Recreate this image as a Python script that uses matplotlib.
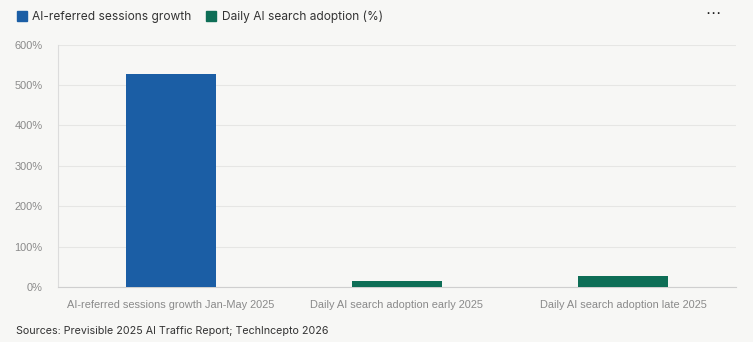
import matplotlib
matplotlib.use("Agg")
import matplotlib.pyplot as plt
from matplotlib.lines import Line2D

# data
categories = ['AI-referred sessions growth Jan-May 2025',
              'Daily AI search adoption early 2025',
              'Daily AI search adoption late 2025']
values = [527, 14, 28]
series = ['AI-referred sessions growth', 'Daily AI search adoption (%)', 'Daily AI search adoption (%)']
yticks = [0, 100, 200, 300, 400, 500, 600]

blue = '#1b5ea5'
green = '#0e6e56'
bg = '#f7f7f5'
colors = [blue if s == 'AI-referred sessions growth' else green for s in series]

fig = plt.figure(figsize=(7.53, 3.42), dpi=100, facecolor=bg)
ax = fig.add_axes([58 / 753, 1 - 287 / 342, 678 / 753, (287 - 44.7) / 342])
ax.set_facecolor(bg)

x = range(len(categories))
ax.bar(x, values, width=0.4, color=colors, zorder=3)

ax.set_xlim(-0.5, len(categories) - 0.5)
ax.set_ylim(0, 600)
ax.set_yticks(yticks)
ax.set_yticklabels([f'{v}%' for v in yticks])
ax.set_xticks(list(x))
ax.set_xticklabels(categories)

ax.grid(axis='y', color='#e6e6e4', linewidth=0.8, zorder=0)
for side in ['top', 'right']:
    ax.spines[side].set_visible(False)
ax.spines['left'].set_color('#dcdcdc')
ax.spines['bottom'].set_color('#cfcfcf')
ax.tick_params(axis='both', length=0, labelcolor='#8a8a8a', labelsize=7.9)
ax.tick_params(axis='x', pad=9)
ax.tick_params(axis='y', pad=11)
for lbl in ax.get_xticklabels() + ax.get_yticklabels():
    lbl.set_fontfamily('Liberation Sans')

# legend at top left
handles = [Line2D([], [], marker='s', linestyle='', markersize=7.5, color=blue),
           Line2D([], [], marker='s', linestyle='', markersize=7.5, color=green)]
fig.legend(handles, ['AI-referred sessions growth', 'Daily AI search adoption (%)'],
           loc='upper left', bbox_to_anchor=(0.005, 1.0), ncol=2, frameon=False,
           handletextpad=0.25, columnspacing=1.1, handlelength=1.2,
           prop={'family': 'Inter', 'size': 8.6}, labelcolor='#333333')

fig.text(713 / 753, 1 - 14 / 342, '\u22ef', ha='center', va='center', fontsize=11,
         color='#222222')
fig.text(16 / 753, 1 - 331 / 342, 'Sources: Previsible 2025 AI Traffic Report; TechIncepto 2026',
         ha='left', va='center', fontsize=7.7, color='#333333', family='Inter')

fig.savefig('out.png', dpi=100, facecolor=bg)
